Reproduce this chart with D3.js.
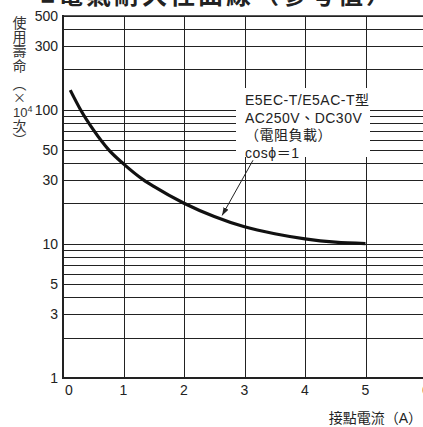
<!DOCTYPE html>
<html>
<head>
<meta charset="utf-8">
<script src="https://cdn.jsdelivr.net/npm/d3@7"></script>
<style>
  html, body { margin: 0; padding: 0; background: #fff; }
  svg { display: block; font-family: "Liberation Sans", Arial, "Noto Sans CJK TC", sans-serif; }
</style>
</head>
<body>
<div id="chart"></div>
<script>
// current (A) vs. life (x10^4 operations)
const current = [0.12, 0.29, 0.5, 0.76, 1.0, 1.33, 1.5, 2, 2.5, 3, 3.5, 4, 4.5, 5]
const life = [140, 100, 71, 50, 39.5, 30, 26.8, 20.1, 16, 13.4, 11.9, 10.9, 10.3, 10.05]

const xTicks = [0, 1, 2, 3, 4, 5, 6]
const yTickLabels = [1, 3, 5, 10, 30, 50, 100, 300, 500]
const yGridLines = [1, 2, 3, 4, 5, 6, 7, 8, 9, 10, 20, 30, 40, 50, 60, 70, 80, 90, 100, 200, 300, 400, 500]

const noteLines = ['E5EC-T/E5AC-T型', 'AC250V、DC30V', '（電阻負載）', 'cosϕ＝1']
const yTitle = ['使', '用', '壽', '命', '︵', '×', '10', '次', '︶']
const xTitle = '接點電流（A）'
const topTitle = '■電氣耐久性曲線（參考值）'

// leader arrow in data coords: [current, life]
const arrowFrom = [3.14, 42]
const arrowTo = [2.63, 16.3]

const W = 423, H = 427
const svg = d3.select('#chart').append('svg')
    .attr('width', W)
    .attr('height', H)

const x = d3.scaleLinear().domain([0, 6]).range([63, 426])
const y = d3.scaleLog().domain([1, 500]).range([378, 16])

// cut-off title at the very top
svg.append('text')
    .attr('x', 40)
    .attr('y', 4)
    .attr('font-size', 25)
    .attr('font-weight', 'bold')
    .attr('fill', '#222')
    .attr('letter-spacing', 3)
    .text(topTitle)

let grid = svg.append('g').attr('stroke', '#222').attr('stroke-width', 1)
grid.selectAll('line.h')
    .data(yGridLines)
    .join('line')
    .attr('class', 'h')
    .attr('x1', x(0))
    .attr('x2', x(6))
    .attr('y1', d => Math.round(y(d)) + 0.5)
    .attr('y2', d => Math.round(y(d)) + 0.5)
grid.selectAll('line.v')
    .data(xTicks)
    .join('line')
    .attr('class', 'v')
    .attr('x1', d => Math.round(x(d)) + 0.5)
    .attr('x2', d => Math.round(x(d)) + 0.5)
    .attr('y1', y(500))
    .attr('y2', y(1))

// axes frame
svg.append('line')
    .attr('x1', x(0)).attr('x2', x(0))
    .attr('y1', y(500) - 1).attr('y2', y(1) + 1)
    .attr('stroke', '#222').attr('stroke-width', 2)
svg.append('line')
    .attr('x1', x(0) - 1).attr('x2', x(6))
    .attr('y1', y(1)).attr('y2', y(1))
    .attr('stroke', '#222').attr('stroke-width', 2)
svg.append('line')
    .attr('x1', x(0)).attr('x2', x(6))
    .attr('y1', y(500)).attr('y2', y(500))
    .attr('stroke', '#222').attr('stroke-width', 1.5)

// y tick labels
svg.selectAll('text.yl')
    .data(yTickLabels)
    .join('text')
    .attr('class', 'yl')
    .attr('x', 58)
    .attr('y', d => y(d) + 5)
    .attr('text-anchor', 'end')
    .attr('font-size', 14)
    .attr('fill', '#222')
    .text(d => d)

// x tick labels
svg.selectAll('text.xl')
    .data(xTicks)
    .join('text')
    .attr('class', 'xl')
    .attr('x', d => x(d) + (d === 0 ? 6 : 0))
    .attr('y', 395)
    .attr('text-anchor', 'middle')
    .attr('font-size', 14)
    .attr('fill', '#222')
    .text(d => d)

// y title, stacked vertically
let yt = svg.selectAll('text.yt')
    .data(yTitle)
    .join('text')
    .attr('class', 'yt')
    .attr('x', (d, i) => i === 6 ? 13 : 19.5)
    .attr('y', (d, i) => [28, 42, 56, 71, 89, 102, 117, 131, 145][i])
    .attr('text-anchor', (d, i) => i === 6 ? 'start' : 'middle')
    .attr('font-family', '"Noto Sans CJK TC", sans-serif')
    .attr('font-size', (d, i) => (i === 5 || i === 6) ? 13 : 14)
    .attr('fill', '#333')
    .text(d => d)
yt.filter((d, i) => i === 6)
    .attr('font-family', '"Liberation Sans", Arial, sans-serif')
    .append('tspan')
    .attr('dy', -5)
    .attr('font-size', 9)
    .text('4')

// x title
svg.append('text')
    .attr('x', 422)
    .attr('y', 423)
    .attr('text-anchor', 'end')
    .attr('font-size', 14)
    .attr('fill', '#222')
    .text(xTitle)

// note box masking the grid
svg.append('rect')
    .attr('x', 236).attr('y', 88)
    .attr('width', 134).attr('height', 69)
    .attr('fill', '#fff')

svg.selectAll('text.note')
    .data(noteLines)
    .join('text')
    .attr('class', 'note')
    .attr('x', 245)
    .attr('y', (d, i) => 105 + i * 17.5)
    .attr('font-size', 14)
    .attr('letter-spacing', 0.5)
    .attr('fill', '#222')
    .text(d => d)

// curve
const pts = current.map((c, i) => [c, life[i]])
svg.append('path')
    .datum(pts)
    .attr('fill', 'none')
    .attr('stroke', '#111')
    .attr('stroke-width', 3.2)
    .attr('d', d3.line().x(d => x(d[0])).y(d => y(d[1])).curve(d3.curveMonotoneX))

// leader arrow
svg.append('defs').append('marker')
    .attr('id', 'arr')
    .attr('viewBox', '0 0 10 10')
    .attr('refX', 10).attr('refY', 5)
    .attr('markerWidth', 8).attr('markerHeight', 8)
    .attr('orient', 'auto')
    .append('path')
    .attr('d', 'M0,1.5 L10,5 L0,8.5 Z')
    .attr('fill', '#222')
svg.append('line')
    .attr('x1', x(arrowFrom[0])).attr('y1', y(arrowFrom[1]))
    .attr('x2', x(arrowTo[0])).attr('y2', y(arrowTo[1]))
    .attr('stroke', '#222').attr('stroke-width', 1)
    .attr('marker-end', 'url(#arr)')
</script>
</body>
</html>
